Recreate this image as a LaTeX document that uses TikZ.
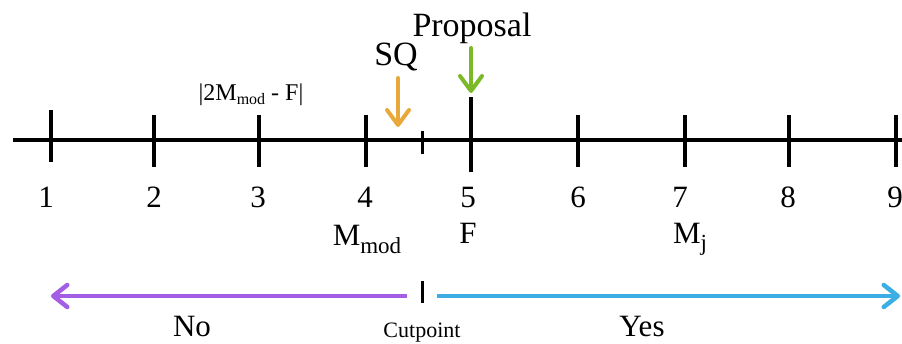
\documentclass[tikz,border=0pt]{standalone}
\usepackage{fontspec}
\setmainfont{Liberation Serif}
\usetikzlibrary{arrows.meta}
\definecolor{sqorange}{HTML}{E9A93A}
\definecolor{propgreen}{HTML}{7CB928}
\definecolor{nopurple}{HTML}{A45EE5}
\definecolor{yesblue}{HTML}{3BAEE6}
\newcommand{\lowsub}[3]{\raisebox{-#1pt}{\fontsize{#2}{#2}\selectfont #3}}
\begin{document}
\begin{tikzpicture}[x=1pt,y=-1pt,
  axisline/.style={line width=4pt},
  tickmark/.style={line width=4pt},
  numlbl/.style={font=\fontsize{31}{34}\selectfont, inner sep=0pt},
  biglbl/.style={font=\fontsize{34}{38}\selectfont, inner sep=0pt},
  ptr/.style={line width=4pt, line cap=round, -{Straight Barb[length=15pt,width=22pt,round]}},
  sidearrow/.style={line width=4.5pt, -{Straight Barb[length=14pt,width=22pt,round]}}]
\useasboundingbox (0,0) rectangle (902,343);
% axis
\coordinate (axL) at (13,140);
\coordinate (axR) at (902,140);
\draw[axisline] (axL) -- (axR);
% ticks
\draw[tickmark] (51,110) -- (51,162);
\foreach \x in {154,259,366,578,685,789,896}{
  \draw[tickmark] (\x,115) -- (\x,167);
}
\draw[tickmark] (471,97) -- (471,172);
\draw[line width=3pt] (422,131) -- (422,154);
% numbers
\foreach \x/\n in {46/1,154/2,258/3,365/4,468/5,578/6,680/7,788/8,895/9}{
  \node[numlbl] (n\n) at (\x,197) {\n};
}
% names below
\node[numlbl, anchor=base] (mmod) at (367,245) {M\lowsub{8}{23}{mod}};
\node[numlbl, anchor=base] (fl) at (468,243) {F};
\node[numlbl, anchor=base] (mj) at (690,243) {M\lowsub{7}{23}{j}};
% top labels
\node[font=\fontsize{24}{28}\selectfont, inner sep=0pt, anchor=base] (absl) at (251,100) {|2M\lowsub{4}{16}{mod} - F|};
\node[biglbl, anchor=base] (sql) at (396,65) {SQ};
\node[biglbl, anchor=base] (propl) at (472,36) {Proposal};
% pointer arrows
\coordinate (sqa) at (398,78);
\coordinate (sqb) at (398,127);
\draw[ptr, draw=sqorange] (sqa) -- (sqb);
\coordinate (pra) at (471,48);
\coordinate (prb) at (471,93);
\draw[ptr, draw=propgreen] (pra) -- (prb);
% cutpoint
\coordinate (cutT) at (422,281);
\coordinate (cutB) at (422,303);
\draw[line width=3pt] (cutT) -- (cutB);
\coordinate (noS) at (407,296);
\coordinate (noE) at (51,296);
\draw[sidearrow, draw=nopurple] (noS) -- (noE);
\coordinate (yesS) at (437,296);
\coordinate (yesE) at (900,296);
\draw[sidearrow, draw=yesblue] (yesS) -- (yesE);
\node[font=\fontsize{22}{26}\selectfont, inner sep=0pt, anchor=base] (cutl) at (422,337) {Cutpoint};
\node[numlbl, anchor=base] (nol) at (192,336) {No};
\node[numlbl, anchor=base] (yesl) at (642,336) {Yes};
\end{tikzpicture}
\end{document}
